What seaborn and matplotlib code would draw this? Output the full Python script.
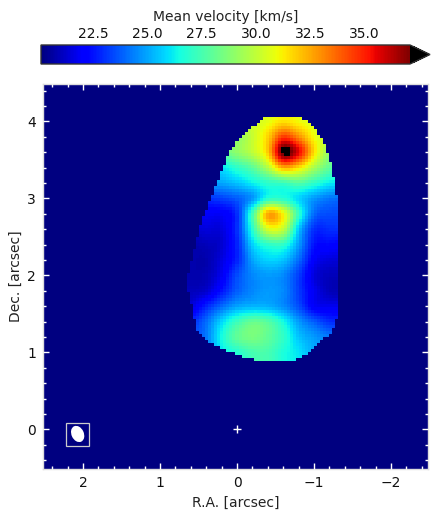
import numpy as np
import matplotlib
matplotlib.use("Agg")
import matplotlib.pyplot as plt
from matplotlib.patches import Ellipse, Rectangle
import seaborn as sns

# Line-of-sight velocity [km/s] sampled every 0.2 arcsec
ra_nodes = [0.8, 0.6, 0.4, 0.2, 0.0, -0.2, -0.4, -0.6, -0.8, -1.0, -1.2, -1.4]
dec_nodes = [4.2, 4.0, 3.8, 3.6, 3.4, 3.2, 3.0, 2.8, 2.6, 2.4, 2.2, 2.0, 1.8, 1.6, 1.4, 1.2, 1.0, 0.8]
v_420 = [28.0, 28.0, 28.5, 29.0, 29.5, 30.0, 30.5, 31.0, 31.0, 30.5, 30.0, 29.5]
v_400 = [28.0, 28.0, 28.5, 29.0, 29.5, 30.2, 30.8, 31.5, 31.0, 30.5, 30.0, 29.5]
v_380 = [27.5, 27.5, 28.0, 28.5, 29.0, 30.2, 31.8, 34.5, 33.0, 31.0, 30.0, 29.5]
v_360 = [26.5, 26.5, 27.5, 28.0, 29.0, 30.0, 32.0, 37.5, 35.5, 31.5, 29.0, 28.5]
v_340 = [25.5, 25.5, 25.8, 26.0, 27.0, 28.0, 29.8, 32.5, 31.5, 29.5, 28.0, 27.5]
v_320 = [24.5, 24.5, 24.8, 25.0, 25.5, 26.3, 27.0, 27.3, 27.8, 27.0, 26.2, 26.0]
v_300 = [23.0, 23.0, 23.0, 23.3, 23.8, 24.8, 26.8, 26.8, 25.8, 24.8, 24.2, 24.0]
v_280 = [21.8, 21.8, 22.0, 22.0, 23.0, 27.5, 32.5, 31.0, 27.0, 24.0, 23.5, 23.5]
v_260 = [21.3, 21.3, 21.5, 21.5, 23.0, 27.0, 30.5, 30.0, 25.5, 23.0, 23.0, 23.0]
v_240 = [20.8, 20.8, 21.0, 21.3, 22.8, 25.8, 27.0, 27.0, 24.8, 22.5, 22.3, 22.0]
v_220 = [20.8, 20.8, 20.8, 21.5, 22.8, 25.0, 25.8, 25.5, 24.0, 22.0, 21.5, 21.5]
v_200 = [20.8, 20.8, 20.9, 21.8, 23.5, 24.5, 24.8, 24.5, 23.2, 21.5, 21.0, 21.0]
v_180 = [21.0, 21.0, 21.3, 22.5, 23.8, 24.5, 24.8, 24.5, 23.2, 21.8, 21.0, 21.0]
v_160 = [21.5, 21.5, 22.8, 24.0, 25.0, 25.3, 25.2, 24.6, 23.5, 22.0, 21.8, 21.8]
v_140 = [22.5, 22.8, 24.0, 25.8, 27.3, 28.2, 27.8, 26.5, 24.8, 23.8, 23.0, 23.0]
v_120 = [23.0, 23.3, 24.2, 26.4, 28.0, 28.5, 28.0, 27.0, 25.5, 24.8, 24.3, 24.3]
v_100 = [23.5, 23.5, 24.3, 26.0, 26.8, 27.5, 27.5, 26.6, 26.0, 25.0, 24.5, 24.5]
v_080 = [23.5, 23.5, 24.3, 26.0, 26.8, 27.5, 27.5, 26.6, 26.0, 25.0, 24.5, 24.5]

# Edges of the emitting region per declination (east and west limits)
edge_dec = [4.05, 3.98, 3.76, 3.54, 3.33, 3.11, 2.89, 2.68, 2.46, 2.16, 1.94, 1.72, 1.51, 1.29, 1.20, 1.12, 1.03, 0.97, 0.90]
edge_east = [-0.33, -0.26, -0.01, 0.12, 0.20, 0.29, 0.38, 0.46, 0.52, 0.59, 0.65, 0.61, 0.56, 0.51, 0.45, 0.32, 0.13, -0.01, -0.26]
edge_west = [-0.81, -0.95, -1.10, -1.20, -1.24, -1.28, -1.31, -1.31, -1.31, -1.31, -1.31, -1.31, -1.31, -1.24, -1.15, -1.03, -0.94, -0.90, -0.72]

ra_ticks = [2, 1, 0, -1, -2]
dec_ticks = [0, 1, 2, 3, 4]
cbar_ticks = [22.5, 25.0, 27.5, 30.0, 32.5, 35.0]
v_min, v_max = 20.1, 37.1

# Map geometry
ra_east, ra_west = 2.52, -2.48
dec_top, dec_bottom = 4.487, -0.513
n_pix = 128
pix = (ra_east - ra_west) / n_pix


def catmull_rom(table, old, new, axis):
    """Resample a table along one axis with a Catmull-Rom cubic."""
    table = np.moveaxis(table, axis, 0)
    padded = np.concatenate([2 * table[:1] - table[1:2], table, 2 * table[-1:] - table[-2:-1]])
    step = old[1] - old[0]
    pos = np.clip((new - old[0]) / step, 0, len(old) - 1.0001)
    i = pos.astype(int)
    t = (pos - i).reshape((-1,) + (1,) * (table.ndim - 1))
    p0, p1, p2, p3 = padded[i], padded[i + 1], padded[i + 2], padded[i + 3]
    out = 0.5 * (2 * p1 + (p2 - p0) * t + (2 * p0 - 5 * p1 + 4 * p2 - p3) * t ** 2
                 + (3 * p1 - p0 - 3 * p2 + p3) * t ** 3)
    return np.moveaxis(out, 0, axis)


velocity_nodes = np.array([v_420, v_400, v_380, v_360, v_340, v_320, v_300, v_280, v_260,
                           v_240, v_220, v_200, v_180, v_160, v_140, v_120, v_100, v_080])
ra_cent = ra_east - (np.arange(n_pix) + 0.5) * pix
dec_cent = dec_top - (np.arange(n_pix) + 0.5) * pix
ra_fine = np.clip(ra_cent, min(ra_nodes), max(ra_nodes))
dec_fine = np.clip(dec_cent, min(dec_nodes), max(dec_nodes))

# Axis nodes descend, so resample against their negatives
field = catmull_rom(velocity_nodes, -np.array(dec_nodes), -dec_fine, 0)
field = catmull_rom(field, -np.array(ra_nodes), -ra_fine, 1)

# Blank everything outside the emitting region
rising = np.array(edge_dec)[::-1]
east = np.interp(dec_cent, rising, np.array(edge_east)[::-1])
west = np.interp(dec_cent, rising, np.array(edge_west)[::-1])
inside = (ra_cent[None, :] <= east[:, None]) & (ra_cent[None, :] >= west[:, None])
inside &= (dec_cent[:, None] <= max(edge_dec)) & (dec_cent[:, None] >= min(edge_dec))
field = np.where(inside, field, v_min)

sns.set_style("white")
plt.rcParams["font.family"] = "DejaVu Sans"
jet = matplotlib.colormaps["jet"].copy()
jet.set_over("black")

W, H = 439, 517
fig = plt.figure(figsize=(W / 100, H / 100), dpi=100)
ax = fig.add_axes([43 / W, 1 - 469 / H, 385 / W, 385 / H])
cax = fig.add_axes([41 / W, 1 - 64 / H, 389 / W, 19 / H])

sns.heatmap(field, ax=ax, cmap=jet, vmin=v_min, vmax=v_max, cbar=False, square=False,
            xticklabels=False, yticklabels=False)
ax.set_axisbelow(False)


def x_idx(ra):
    return (ra_east - np.asarray(ra, dtype=float)) / pix


def y_idx(dec):
    return (dec_top - np.asarray(dec, dtype=float)) / pix


ax.set_xticks(x_idx(ra_ticks))
ax.set_xticklabels([str(v).replace("-", "\u2212") for v in ra_ticks], rotation=0)
ax.set_yticks(y_idx(dec_ticks))
ax.set_yticklabels([str(v) for v in dec_ticks], rotation=0)
minor_ra = np.arange(-2.4, 2.5, 0.2)
minor_dec = np.arange(-0.4, 4.5, 0.2)
ax.set_xticks(x_idx(minor_ra), minor=True)
ax.set_yticks(y_idx(minor_dec), minor=True)
ax.tick_params(which="major", direction="in", length=4.5, width=1, color="white",
               top=True, right=True, bottom=True, left=True, labelsize=10, labelcolor="#111111", pad=5)
ax.tick_params(which="minor", direction="in", length=2.5, width=1, color="white",
               top=True, right=True, bottom=True, left=True)
ax.set_xlabel("R.A. [arcsec]", fontsize=10, color="#222222", labelpad=4)
ax.set_ylabel("Dec. [arcsec]", fontsize=10, color="#222222", labelpad=3)
for s in ax.spines.values():
    s.set_visible(True)
    s.set_linewidth(1)
    s.set_color("#dddddd")

# Stellar position and synthesised beam
ax.plot(x_idx(0), y_idx(0), marker="+", ms=5.8, mew=1, color="white")
ax.add_patch(Rectangle((x_idx(2.218), y_idx(0.09)), 0.30 / pix, 0.31 / pix, fill=False,
                       edgecolor="#cccccc", lw=0.9))
ax.add_patch(Ellipse((x_idx(2.07), y_idx(-0.058)), 0.16 / pix, 0.22 / pix, angle=-25,
                     facecolor="white", edgecolor="none"))

cbar = fig.colorbar(ax.collections[0], cax=cax, orientation="horizontal", extend="max",
                    extendfrac=20 / 369, ticks=cbar_ticks)
cax.xaxis.set_ticks_position("top")
cax.xaxis.set_label_position("top")
cax.tick_params(direction="in", length=5, width=1, color="black", labelsize=10,
                labelcolor="#111111", pad=3)
cbar.set_label("Mean velocity [km/s]", fontsize=10, color="#222222", labelpad=4)
cbar.set_ticklabels([f"{t:.1f}" for t in cbar_ticks])
cbar.outline.set_edgecolor("#333333")
cbar.outline.set_linewidth(1)

fig.savefig("out.png", dpi=100)
